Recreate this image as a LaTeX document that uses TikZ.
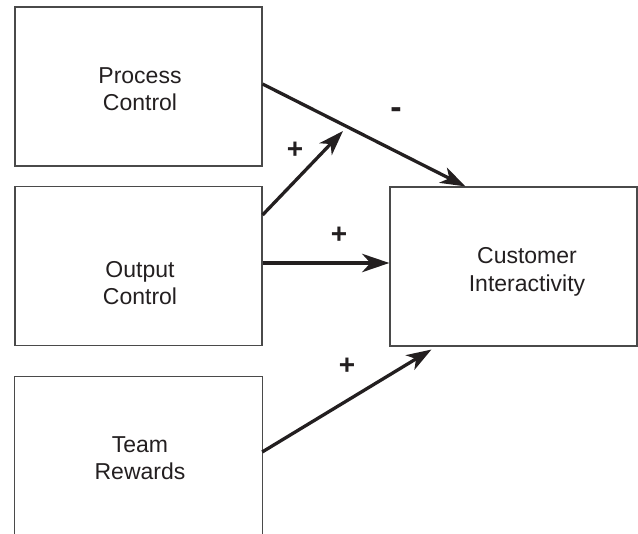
\documentclass[tikz,border=0pt]{standalone}
\usepackage{fontspec}
\setmainfont{Liberation Sans}
\usetikzlibrary{arrows.meta}
\definecolor{ink}{HTML}{231F20}
\definecolor{edge}{HTML}{4A4A4A}
\begin{document}
\begin{tikzpicture}[x=1pt,y=-1pt,
  boxnode/.style={draw=edge,line width=1.1pt,minimum width=247pt,minimum height=159pt,inner sep=0pt},
  txt/.style={font=\fontsize{23}{27.5}\selectfont,text=ink,align=center},
  sgn/.style={font=\fontsize{28}{28}\selectfont\bfseries,text=ink},
  arr/.style={draw=ink,line width=3.3pt,-{Stealth[length=25pt,width=17pt,inset=7pt]}},
  arrthick/.style={draw=ink,line width=4.8pt,-{Stealth[length=27pt,width=18pt,inset=8pt]}}]
\useasboundingbox (0,0) rectangle (638,534);
% boxes
\node[boxnode] (pc) at (138.5,86.5) {};
\node[boxnode] (oc) at (138.5,266) {};
\node[boxnode] (ci) at (513.5,266.5) {};
\node[minimum width=247pt,minimum height=160pt,inner sep=0pt] (tr) at (138.5,457) {};
\draw[edge,line width=1.1pt] (tr.south west) -- (tr.north west) -- (tr.north east) -- (tr.south east);
% texts
\node[txt] (pct) at (140,89) {Process\\Control};
\node[txt] (oct) at (140,283) {Output\\Control};
\node[txt] (trt) at (140,458) {Team\\Rewards};
\node[txt] (cit) at (527,272) {Customer\\Interactivity};
% connectors
\coordinate (pcs) at ([yshift=2.5pt]pc.east);
\coordinate (cit1) at ([xshift=76pt]ci.north west);
\draw[arr] (pcs) -- (cit1);
\coordinate (ocs1) at ([yshift=51pt]oc.east);
\coordinate (mid) at (343,131);
\draw[arr] (ocs1) -- (mid);
\coordinate (ocs2) at ([yshift=3pt]oc.east);
\draw[arrthick] (ocs2) -- (ci.west |- ocs2);
\coordinate (trs) at ([yshift=5pt]tr.east);
\coordinate (cib) at ([xshift=42pt,yshift=-3pt]ci.south west);
\draw[arr] (trs) -- (cib);
% signs
\node[sgn,font=\fontsize{34}{34}\selectfont\bfseries] (s1) at (396,113) {-};
\node[sgn] (s2) at (295,150) {+};
\node[sgn] (s3) at (339,235) {+};
\node[sgn] (s4) at (347,366) {+};
\end{tikzpicture}
\end{document}
